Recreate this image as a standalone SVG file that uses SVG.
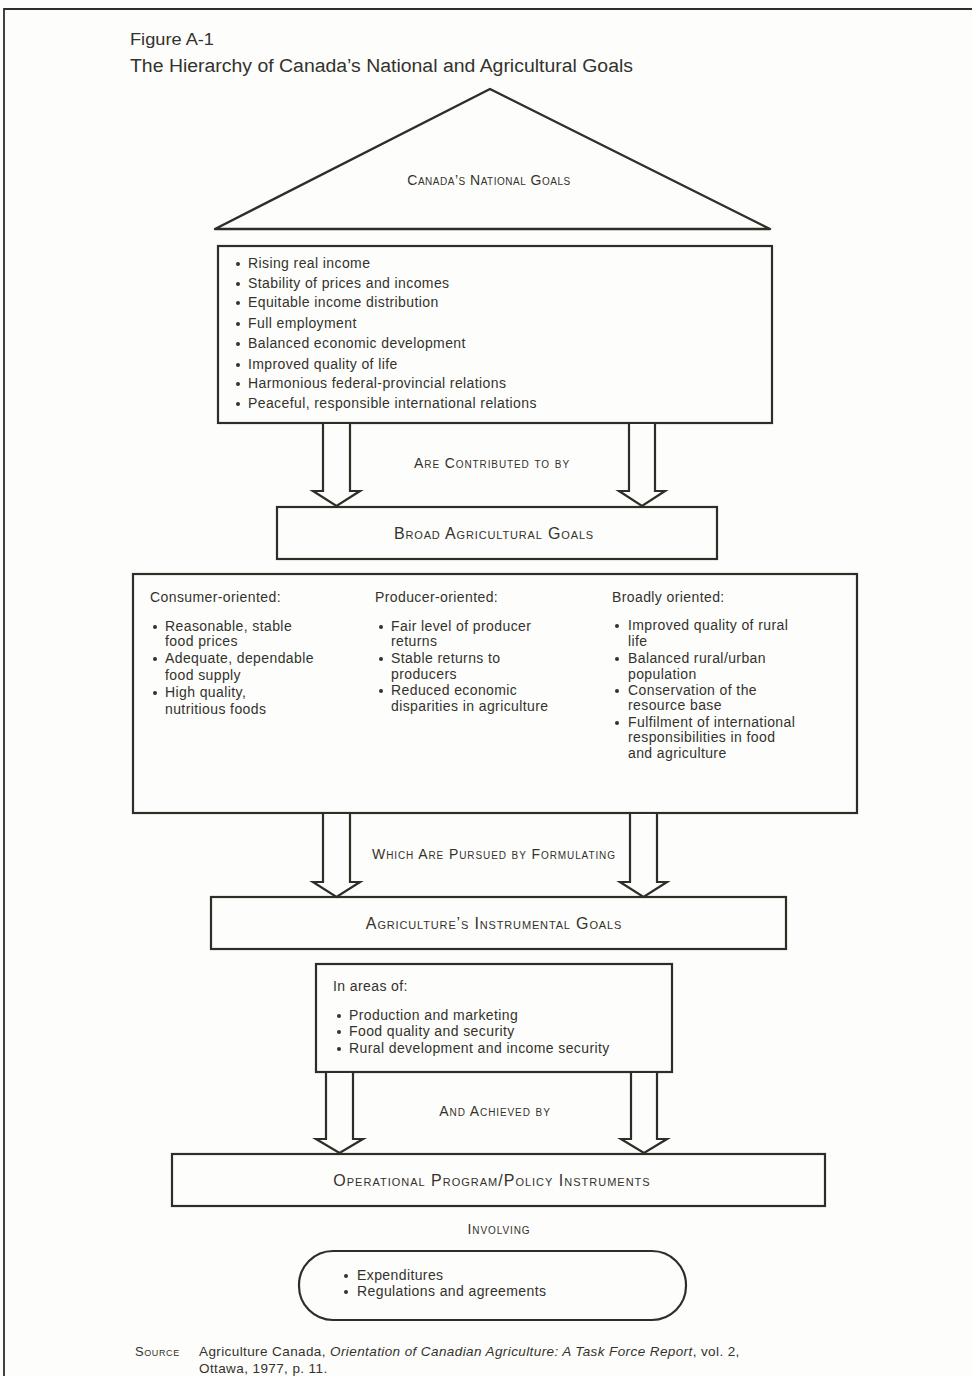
<svg xmlns="http://www.w3.org/2000/svg" width="972" height="1376" viewBox="0 0 972 1376">
<style>
  text { font-family: "Liberation Sans", Arial, sans-serif; fill: #33322c; }
  .t { font-size: 14px; letter-spacing: 0.4px; }
  .sc { font-size: 14px; font-variant: small-caps; letter-spacing: 0.9px; }
  .nl { font-size: 16px; font-variant: small-caps; letter-spacing: 0.85px; }
  .src { font-size: 13.5px; letter-spacing: 0.4px; }
  .box { fill: #fdfdfb; stroke: #2e2d26; stroke-width: 2.2; }
  .arrow { fill: #fdfdfb; stroke: #2e2d26; stroke-width: 2.2; stroke-linejoin: miter; }
  .b { fill: #33322c; }
</style>
<rect x="0" y="0" width="972" height="1376" fill="#fdfdfb"/>
<g id="frame">
  <path d="M4 1376 V9 H972" fill="none" stroke="#2e2d26" stroke-width="1.8"/>
</g>
<g id="title">
  <text x="130" y="45" style="font-size:17px" textLength="84" lengthAdjust="spacingAndGlyphs">Figure A-1</text>
  <text x="130" y="72" style="font-size:18px" textLength="503" lengthAdjust="spacingAndGlyphs">The Hierarchy of Canada’s National and Agricultural Goals</text>
</g>
<g id="national-goals">
  <path d="M215 229 L490 89 L770 229 Z" fill="#fdfdfb" stroke="#2e2d26" stroke-width="2.4" stroke-linejoin="round"/>
  <text class="sc" x="489" y="185" text-anchor="middle" style="letter-spacing:0.5px">Canada’s National Goals</text>
</g>
<g id="national-list">
  <rect class="box" x="218" y="246" width="554" height="177"/>
  <g class="b">
    <circle cx="238" cy="264" r="2"/><circle cx="238" cy="284" r="2"/><circle cx="238" cy="303" r="2"/><circle cx="238" cy="324" r="2"/>
    <circle cx="238" cy="344" r="2"/><circle cx="238" cy="365" r="2"/><circle cx="238" cy="384" r="2"/><circle cx="238" cy="404" r="2"/>
  </g>
  <text class="t" x="248" y="268">Rising real income</text>
  <text class="t" x="248" y="288">Stability of prices and incomes</text>
  <text class="t" x="248" y="307">Equitable income distribution</text>
  <text class="t" x="248" y="328">Full employment</text>
  <text class="t" x="248" y="348">Balanced economic development</text>
  <text class="t" x="248" y="369">Improved quality of life</text>
  <text class="t" x="248" y="388">Harmonious federal-provincial relations</text>
  <text class="t" x="248" y="408">Peaceful, responsible international relations</text>
</g>
<g id="broad-goals">
  <rect class="box" x="277" y="507" width="440" height="52"/>
  <text class="nl" x="494" y="539" text-anchor="middle">Broad Agricultural Goals</text>
</g>
<g id="broad-list">
  <rect class="box" x="133" y="574" width="724" height="239"/>
  <text class="t" x="150" y="602">Consumer-oriented:</text>
  <text class="t" x="375" y="602">Producer-oriented:</text>
  <text class="t" x="612" y="602">Broadly oriented:</text>
  <g class="b">
    <circle cx="155" cy="627" r="2"/><circle cx="155" cy="659" r="2"/><circle cx="155" cy="693" r="2"/>
    <circle cx="381" cy="627" r="2"/><circle cx="381" cy="659" r="2"/><circle cx="381" cy="691" r="2"/>
    <circle cx="617" cy="626" r="2"/><circle cx="617" cy="659" r="2"/><circle cx="617" cy="691" r="2"/><circle cx="617" cy="723" r="2"/>
  </g>
  <text class="t" x="165" y="631">Reasonable, stable</text>
  <text class="t" x="165" y="646">food prices</text>
  <text class="t" x="165" y="663">Adequate, dependable</text>
  <text class="t" x="165" y="680">food supply</text>
  <text class="t" x="165" y="697">High quality,</text>
  <text class="t" x="165" y="714">nutritious foods</text>
  <text class="t" x="391" y="631">Fair level of producer</text>
  <text class="t" x="391" y="646">returns</text>
  <text class="t" x="391" y="663">Stable returns to</text>
  <text class="t" x="391" y="679">producers</text>
  <text class="t" x="391" y="695">Reduced economic</text>
  <text class="t" x="391" y="711">disparities in agriculture</text>
  <text class="t" x="628" y="630">Improved quality of rural</text>
  <text class="t" x="628" y="646">life</text>
  <text class="t" x="628" y="663">Balanced rural/urban</text>
  <text class="t" x="628" y="679">population</text>
  <text class="t" x="628" y="695">Conservation of the</text>
  <text class="t" x="628" y="710">resource base</text>
  <text class="t" x="628" y="727">Fulfilment of international</text>
  <text class="t" x="628" y="742">responsibilities in food</text>
  <text class="t" x="628" y="758">and agriculture</text>
</g>
<g id="instrumental-goals">
  <rect class="box" x="211" y="897" width="575" height="52"/>
  <text class="nl" x="494" y="929" text-anchor="middle">Agriculture’s Instrumental Goals</text>
</g>
<g id="areas">
  <rect class="box" x="316" y="964" width="356" height="108"/>
  <text class="t" x="333" y="991">In areas of:</text>
  <g class="b">
    <circle cx="339" cy="1016" r="2"/><circle cx="339" cy="1032" r="2"/><circle cx="339" cy="1049" r="2"/>
  </g>
  <text class="t" x="349" y="1020">Production and marketing</text>
  <text class="t" x="349" y="1036">Food quality and security</text>
  <text class="t" x="349" y="1053">Rural development and income security</text>
</g>
<g id="operational">
  <rect class="box" x="172" y="1154" width="653" height="52"/>
  <text class="nl" x="492" y="1186" text-anchor="middle" style="letter-spacing:1px">Operational Program/Policy Instruments</text>
</g>
<g id="involving-list">
  <rect class="box" x="299" y="1251" width="387" height="69" rx="34" ry="34"/>
  <g class="b">
    <circle cx="346" cy="1276" r="2"/><circle cx="346" cy="1292" r="2"/>
  </g>
  <text class="t" x="357" y="1280">Expenditures</text>
  <text class="t" x="357" y="1296">Regulations and agreements</text>
</g>
<g id="connectors">
  <path class="arrow" d="M323 424 V491 H313 L336.5 506 L360 491 H350 V424"/>
  <path class="arrow" d="M629 424 V491 H619 L642 506 L665 491 H655 V424"/>
  <path class="arrow" d="M323 814 V882 H313 L336.5 897 L360 882 H350 V814"/>
  <path class="arrow" d="M630 814 V882 H620 L643.5 897 L667 882 H657 V814"/>
  <path class="arrow" d="M326 1073 V1139 H316 L339.5 1153 L363 1139 H353 V1073"/>
  <path class="arrow" d="M631 1073 V1139 H621 L644 1153 L667 1139 H657 V1073"/>
  <text class="sc" x="492" y="468" text-anchor="middle">Are Contributed to by</text>
  <text class="sc" x="494" y="859" text-anchor="middle">Which Are Pursued by Formulating</text>
  <text class="sc" x="495" y="1116" text-anchor="middle">And Achieved by</text>
  <text class="sc" x="499" y="1234" text-anchor="middle">Involving</text>
</g>
<g id="source">
  <text class="sc" x="135" y="1356" style="font-size:13px;letter-spacing:0.6px">Source</text>
  <text class="src" x="199" y="1356">Agriculture Canada, <tspan font-style="italic">Orientation of Canadian Agriculture: A Task Force Report</tspan>, vol. 2,</text>
  <text class="src" x="199" y="1373">Ottawa, 1977, p. 11.</text>
</g>
</svg>
